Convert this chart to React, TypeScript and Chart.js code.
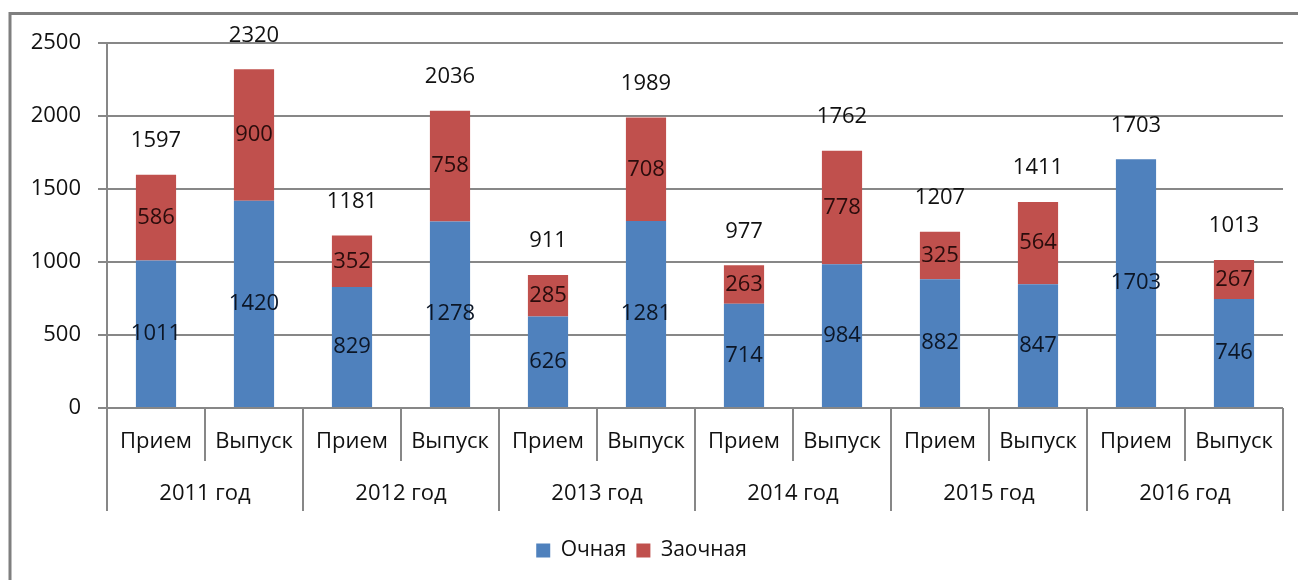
import React, { useEffect, useRef } from "react";
import { Chart, registerables } from "chart.js";

Chart.register(...registerables);

const categories = ["Прием", "Выпуск", "Прием", "Выпуск", "Прием", "Выпуск", "Прием", "Выпуск", "Прием", "Выпуск", "Прием", "Выпуск"];
const years = ["2011 год", "2012 год", "2013 год", "2014 год", "2015 год", "2016 год"];
const fullTime = [1011, 1420, 829, 1278, 626, 1281, 714, 984, 882, 847, 1703, 746];
const partTime = [586, 900, 352, 758, 285, 708, 263, 778, 325, 564, 0, 267];
const totals = [1597, 2320, 1181, 2036, 911, 1989, 977, 1762, 1207, 1411, 1703, 1013];
const seriesNames = ["Очная", "Заочная"];
const yMin = 0;
const yMax = 2500;
const yStep = 500;

const FONT = "'Open Sans', 'Noto Sans', 'DejaVu Sans', sans-serif";
const FSIZE = 22;
const BLUE = "#4F81BD";
const RED = "#C0504D";
const GRID = "#878787";
const TEXT = "#111111";

const decorPlugin = {
  id: "decor",
  beforeDraw(chart: any) {
    const ctx = chart.ctx;
    ctx.save();
    ctx.fillStyle = "#ffffff";
    ctx.fillRect(0, 0, chart.width, chart.height);
    ctx.strokeStyle = "#7f7f7f";
    ctx.lineWidth = 3;
    ctx.beginPath();
    ctx.moveTo(10, chart.height);
    ctx.lineTo(10, 13.5);
    ctx.lineTo(chart.width, 13.5);
    ctx.stroke();
    ctx.restore();
  },
  afterDatasetsDraw(chart: any) {
    const ctx = chart.ctx;
    ctx.save();
    ctx.font = `${FSIZE}px ${FONT}`;
    ctx.textAlign = "center";
    ctx.textBaseline = "middle";
    chart.data.datasets.forEach((ds: any, di: number) => {
      const meta = chart.getDatasetMeta(di);
      meta.data.forEach((el: any, i: number) => {
        const v = ds.data[i];
        if (!v) return;
        const props = el.getProps(["x", "y", "base"], true);
        ctx.fillStyle = di === 0 ? "#0c1626" : "#2a0c0c";
        ctx.fillText(String(v), props.x, (props.y + props.base) / 2);
      });
    });
    const y = chart.scales.y;
    const x = chart.scales.x;
    ctx.fillStyle = TEXT;
    totals.forEach((t, i) => {
      ctx.fillText(String(t), x.getPixelForValue(i), y.getPixelForValue(t) - 34);
    });
    ctx.restore();
  },
  afterDraw(chart: any) {
    const ctx = chart.ctx;
    const x = chart.scales.x;
    const area = chart.chartArea;
    const n = categories.length;
    const step = x.getPixelForValue(1) - x.getPixelForValue(0);
    ctx.save();
    ctx.strokeStyle = GRID;
    ctx.lineWidth = 2;
    for (let i = 0; i <= n; i++) {
      const px = Math.round(x.getPixelForValue(0) - step / 2 + i * step);
      const len = i % 2 === 0 ? 103 : 53;
      ctx.beginPath();
      ctx.moveTo(px, area.bottom);
      ctx.lineTo(px, area.bottom + len);
      ctx.stroke();
    }
    ctx.font = `${FSIZE}px ${FONT}`;
    ctx.fillStyle = TEXT;
    ctx.textAlign = "center";
    ctx.textBaseline = "middle";
    categories.forEach((c, i) => {
      ctx.fillText(c, x.getPixelForValue(i), area.bottom + 34);
    });
    years.forEach((yr, g) => {
      const cx = (x.getPixelForValue(2 * g) + x.getPixelForValue(2 * g + 1)) / 2;
      ctx.fillText(yr, cx, area.bottom + 86);
    });
    ctx.restore();
  },
};

export default function App() {
  const ref = useRef<HTMLCanvasElement | null>(null);
  useEffect(() => {
    if (!ref.current) return;
    const chart = new Chart(ref.current, {
      type: "bar",
      data: {
        labels: categories,
        datasets: [
          { label: seriesNames[0], data: fullTime, backgroundColor: BLUE, borderWidth: 0 },
          { label: seriesNames[1], data: partTime, backgroundColor: RED, borderWidth: 0 },
        ],
      },
      options: {
        responsive: false,
        animation: false,
        events: [],
        datasets: { bar: { barPercentage: 0.41, categoryPercentage: 1 } },
        layout: { padding: { left: 0, top: 43, right: 15, bottom: 9 } },
        plugins: {
          tooltip: { enabled: false },
          legend: {
            position: "bottom",
            labels: {
              boxWidth: 14,
              boxHeight: 14,
              padding: 10,
              color: TEXT,
              font: { family: FONT, size: 21 },
            },
          },
        },
        scales: {
          x: {
            type: "category",
            stacked: true,
            offset: true,
            grid: { display: false },
            border: { display: false },
            ticks: { display: false },
            afterFit: (s: any) => {
              s.height = 122;
            },
          },
          y: {
            stacked: true,
            min: yMin,
            max: yMax,
            ticks: {
              stepSize: yStep,
              padding: 17,
              color: TEXT,
              font: { family: FONT, size: FSIZE },
              callback: (v: any) => String(v),
            },
            grid: { color: GRID, lineWidth: 2, tickLength: 9, drawTicks: true },
            border: { color: GRID, width: 2 },
            afterFit: (s: any) => {
              s.width = 107;
            },
          },
        },
      },
      plugins: [decorPlugin],
    });
    return () => chart.destroy();
  }, []);
  return (
    <div style={{ position: "fixed", left: 0, top: 0, width: 1298, height: 580, background: "#fff" }}>
      <canvas ref={ref} width={1298} height={580} style={{ display: "block" }} />
    </div>
  );
}
